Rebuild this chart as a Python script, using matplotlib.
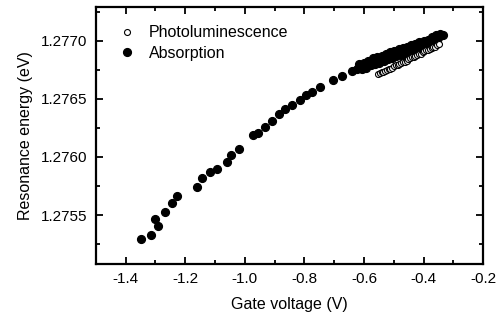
import matplotlib
matplotlib.use("Agg")
import matplotlib.pyplot as plt
from matplotlib.ticker import MultipleLocator, FormatStrFormatter

plt.rcParams['font.family'] = ['Liberation Sans', 'DejaVu Sans']

# Absorption (filled circles)
abs_x = [-1.350, -1.316, -1.302, -1.291, -1.268, -1.246, -1.228, -1.160, -1.145,
         -1.117, -1.094, -1.061, -1.048, -1.021, -0.972, -0.956, -0.932, -0.910,
         -0.886, -0.866, -0.843, -0.815, -0.795, -0.774, -0.748, -0.703, -0.673,
         -0.641, -0.624,
         -0.615, -0.608, -0.600, -0.593, -0.585, -0.578, -0.570, -0.563, -0.556,
         -0.548, -0.541, -0.534, -0.527, -0.520, -0.512, -0.505, -0.498, -0.491,
         -0.484, -0.477, -0.470, -0.463, -0.456, -0.449, -0.442, -0.435, -0.428,
         -0.421, -0.414, -0.407, -0.400, -0.393, -0.386, -0.379, -0.372, -0.365,
         -0.358, -0.351, -0.345, -0.340, -0.335]
abs_y = [1.27529, 1.27533, 1.27547, 1.27541, 1.27553, 1.27560, 1.27566, 1.27574, 1.27582,
         1.27587, 1.27590, 1.27596, 1.27602, 1.27607, 1.27619, 1.27621, 1.27626, 1.27631,
         1.27637, 1.27641, 1.27645, 1.27649, 1.27653, 1.27656, 1.27660, 1.27666, 1.27670,
         1.27674, 1.27676,
         1.27680, 1.27676, 1.27681, 1.27677, 1.27683, 1.27679, 1.27685, 1.27680, 1.27686,
         1.27681, 1.27687, 1.27683, 1.27689, 1.27684, 1.27690, 1.27685, 1.27691, 1.27687,
         1.27693, 1.27688, 1.27694, 1.27689, 1.27695, 1.27690, 1.27696, 1.27692, 1.27697,
         1.27693, 1.27699, 1.27695, 1.27700, 1.27696, 1.27701, 1.27698, 1.27703, 1.27700,
         1.27705, 1.27702, 1.27706, 1.27705, 1.27705]

# Photoluminescence (open circles)
pl_x = [-0.553, -0.547, -0.541, -0.535, -0.529, -0.523, -0.517, -0.511, -0.505, -0.499,
        -0.493, -0.487, -0.481, -0.475, -0.469, -0.463, -0.457, -0.451, -0.445, -0.439,
        -0.433, -0.427, -0.421, -0.415, -0.409, -0.403, -0.397, -0.391, -0.385, -0.379,
        -0.373, -0.367, -0.361, -0.355, -0.349]
pl_y = [1.27671, 1.27672, 1.27673, 1.27673, 1.27674, 1.27675, 1.27676, 1.27676, 1.27677, 1.27678,
        1.27679, 1.27679, 1.27680, 1.27681, 1.27682, 1.27682, 1.27683, 1.27684, 1.27685, 1.27686,
        1.27686, 1.27687, 1.27688, 1.27689, 1.27689, 1.27690, 1.27691, 1.27692, 1.27692, 1.27693,
        1.27694, 1.27695, 1.27695, 1.27696, 1.27697]

fig = plt.figure(figsize=(4.97, 3.23), dpi=100)
ax = fig.add_axes([0.193, 0.183, 0.779, 0.795])

ax.plot(abs_x, abs_y, 'o', color='black', markersize=5.6, linestyle='none', label='Absorption')
ax.plot(pl_x, pl_y, 'o', markerfacecolor='white', markeredgecolor='black', markersize=4.3,
        markeredgewidth=0.8, linestyle='none', label='Photoluminescence')

ax.set_xlim(-1.5, -0.2)
ax.set_ylim(1.27508, 1.27729)
ax.xaxis.set_major_locator(MultipleLocator(0.2))
ax.xaxis.set_minor_locator(MultipleLocator(0.1))
ax.yaxis.set_major_locator(MultipleLocator(0.0005))
ax.yaxis.set_minor_locator(MultipleLocator(0.00025))
ax.xaxis.set_major_formatter(FormatStrFormatter('%.1f'))
ax.yaxis.set_major_formatter(FormatStrFormatter('%.4f'))

ax.tick_params(which='both', direction='in', top=True, right=True, width=1.3, labelsize=11)
ax.tick_params(which='major', length=5, pad=6)
ax.tick_params(which='minor', length=3)
for s in ax.spines.values():
    s.set_linewidth(1.6)

ax.set_xlabel('Gate voltage (V)', fontsize=11.5, labelpad=8)
ax.set_ylabel('Resonance energy (eV)', fontsize=11.5, labelpad=6)

handles, labels = ax.get_legend_handles_labels()
ax.legend([handles[1], handles[0]], [labels[1], labels[0]], loc='upper left', frameon=False,
          fontsize=11.5, handletextpad=0.6, borderaxespad=0.5, labelspacing=0.35,
          handlelength=1.5, bbox_to_anchor=(0.012, 0.985))

fig.savefig('out.png', dpi=100)
